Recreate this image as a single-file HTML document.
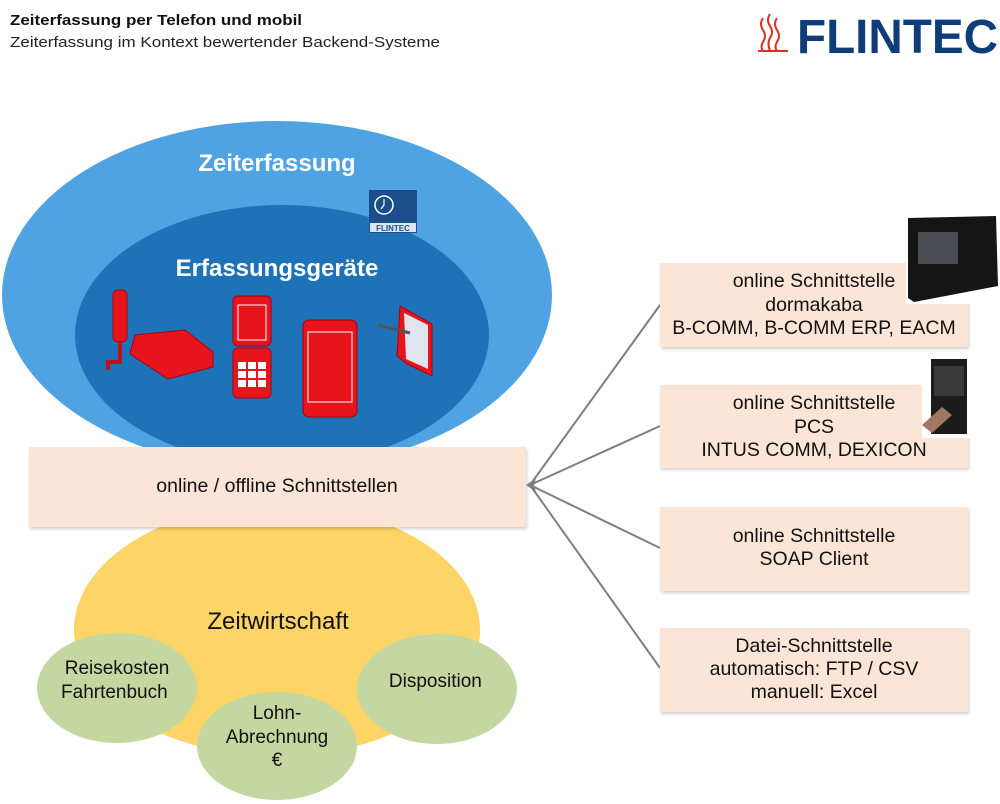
<!DOCTYPE html>
<html><head><meta charset="utf-8"><style>
html,body{margin:0;padding:0;background:#fff;}
svg{display:block;font-family:"Liberation Sans",Arial,sans-serif;}
</style></head><body>
<svg width="1000" height="804" viewBox="0 0 1000 804" xmlns="http://www.w3.org/2000/svg">
<defs>
<filter id="sh" x="-5%" y="-5%" width="110%" height="115%"><feDropShadow dx="1" dy="2" stdDeviation="1.5" flood-color="#000" flood-opacity="0.18"/></filter>
</defs>
<text x="10" y="25" font-size="15" font-weight="bold" fill="#111" textLength="292" lengthAdjust="spacingAndGlyphs">Zeiterfassung per Telefon und mobil</text>
<text x="10" y="47" font-size="15" fill="#222" textLength="430" lengthAdjust="spacingAndGlyphs">Zeiterfassung im Kontext bewertender Backend-Systeme</text>
<!-- logo -->
<g fill="none" stroke="#d8341e" stroke-width="2">
<path d="M763 18 q-4 6 0 12 q4 6 0 12 q-3 5 0 9"/>
<path d="M770 14 q-4 6 0 12 q4 6 0 12 q-3 5 0 13"/>
<path d="M777 18 q-4 6 0 12 q4 6 0 12 q-3 5 0 9"/>
<path d="M758 51 h30"/>
</g>
<text x="797" y="53" font-size="48" font-weight="bold" fill="#0f3d7a" textLength="201" lengthAdjust="spacingAndGlyphs">FLINTEC</text>

<!-- ellipses -->
<ellipse cx="277" cy="630" rx="203" ry="126" fill="#fdd466"/>
<ellipse cx="277" cy="295" rx="275" ry="174" fill="#4fa3e3"/>
<ellipse cx="282" cy="335" rx="207" ry="130" fill="#1d72b8"/>
<text x="277" y="171" font-size="24" font-weight="bold" fill="#fff" text-anchor="middle">Zeiterfassung</text>
<text x="277" y="276" font-size="24" font-weight="bold" fill="#fff" text-anchor="middle">Erfassungsgeräte</text>
<!-- small logo -->
<rect x="369" y="190" width="48" height="43" fill="#1a4f8c"/>
<circle cx="384" cy="205" r="9" fill="none" stroke="#fff" stroke-width="1.5"/>
<path d="M384 199 v6 l-3 4" stroke="#fff" fill="none" stroke-width="1.2"/>
<rect x="370" y="223" width="46" height="9" fill="#dde6f0"/>
<text x="393" y="231" font-size="8" font-weight="bold" fill="#1a4f8c" text-anchor="middle">FLINTEC</text>

<!-- devices -->
<g fill="#e8141c" stroke="#a80010" stroke-width="1">
<rect x="113" y="290" width="14" height="52" rx="5"/>
<path d="M120 342 v20 h-12 v8" fill="none" stroke="#c0101a" stroke-width="4"/>
<path d="M135 335 l50 -5 l28 22 v15 l-45 12 l-38 -25 z"/>
<rect x="233" y="296" width="38" height="50" rx="5"/>
<rect x="233" y="348" width="38" height="50" rx="5"/>
<rect x="303" y="320" width="54" height="97" rx="6"/>
<path d="M400 306 l32 18 v52 l-25 -12 l-10 -8 z" />
</g>
<g fill="#fff">
<rect x="238" y="305" width="28" height="35" fill="none" stroke="#fff" stroke-width="1"/>
<rect x="238" y="362" width="8" height="7"/><rect x="248" y="362" width="8" height="7"/><rect x="258" y="362" width="8" height="7"/>
<rect x="238" y="371" width="8" height="7"/><rect x="248" y="371" width="8" height="7"/><rect x="258" y="371" width="8" height="7"/>
<rect x="238" y="380" width="8" height="7"/><rect x="248" y="380" width="8" height="7"/><rect x="258" y="380" width="8" height="7"/>
<rect x="308" y="332" width="44" height="70" fill="none" stroke="#fff" stroke-width="1"/>
<path d="M404 313 l24 12 v44 l-22 -10 z" fill="#e0e4ee"/>
</g>
<path d="M378 325 l32 8" stroke="#555" stroke-width="3"/>

<!-- middle box -->
<rect x="29" y="447" width="497" height="80" fill="#fbe5d6" filter="url(#sh)"/>
<text x="277" y="492" font-size="19.5" fill="#111" text-anchor="middle">online / offline Schnittstellen</text>

<!-- green ellipses -->
<ellipse cx="117" cy="688" rx="80" ry="55" fill="#c5d7a0"/>
<ellipse cx="437" cy="689" rx="80" ry="55" fill="#c5d7a0"/>
<ellipse cx="277" cy="746" rx="80" ry="54" fill="#c5d7a0"/>
<text x="278" y="629" font-size="24" fill="#111" text-anchor="middle">Zeitwirtschaft</text>
<text font-size="19" fill="#111" text-anchor="middle">
<tspan x="117" y="674">Reisekosten</tspan><tspan x="117" y="698">Fahrtenbuch</tspan>
<tspan x="438" y="687">Disposition</tspan>
<tspan x="277" y="719">Lohn-</tspan><tspan x="277" y="743">Abrechnung</tspan><tspan x="277" y="766">€</tspan>
</text>

<!-- connectors -->
<g stroke="#7f7f7f" stroke-width="2">
<line x1="530" y1="485" x2="660" y2="305"/>
<line x1="530" y1="485" x2="660" y2="426"/>
<line x1="530" y1="485" x2="660" y2="548"/>
<line x1="530" y1="485" x2="660" y2="668"/>
</g>
<path d="M526 485 l10 -7 l-2 7 l2 7 z" fill="#7f7f7f"/>

<!-- right boxes -->
<g fill="#fbe5d6" filter="url(#sh)">
<rect x="660" y="263" width="308" height="84"/>
<rect x="660" y="385" width="308" height="83"/>
<rect x="660" y="507" width="308" height="84"/>
<rect x="660" y="628" width="308" height="84"/>
</g>
<g font-size="19.5" fill="#111" text-anchor="middle">
<text x="814" y="287">online Schnittstelle</text>
<text x="814" y="311">dormakaba</text>
<text x="814" y="334">B-COMM, B-COMM ERP, EACM</text>
<text x="814" y="409">online Schnittstelle</text>
<text x="814" y="433">PCS</text>
<text x="814" y="456">INTUS COMM, DEXICON</text>
<text x="814" y="542">online Schnittstelle</text>
<text x="814" y="565">SOAP Client</text>
<text x="814" y="652">Datei-Schnittstelle</text>
<text x="814" y="675">automatisch: FTP / CSV</text>
<text x="814" y="698">manuell: Excel</text>
</g>

<!-- device photos -->
<rect x="906" y="215" width="94" height="89" fill="#fff"/>
<path d="M908 218 l88 -2 l2 70 l-84 16 l-6 -4 z" fill="#151515"/>
<rect x="918" y="232" width="40" height="32" fill="#4a4d52"/>
<rect x="922" y="358" width="50" height="80" fill="#fff"/>
<rect x="931" y="359" width="36" height="75" fill="#1c1c1c"/>
<rect x="934" y="366" width="30" height="30" fill="#3a3a3a"/>
<path d="M922 425 l20 -18 l10 8 l-20 18 z" fill="#a07860"/>
</svg>
</body></html>
